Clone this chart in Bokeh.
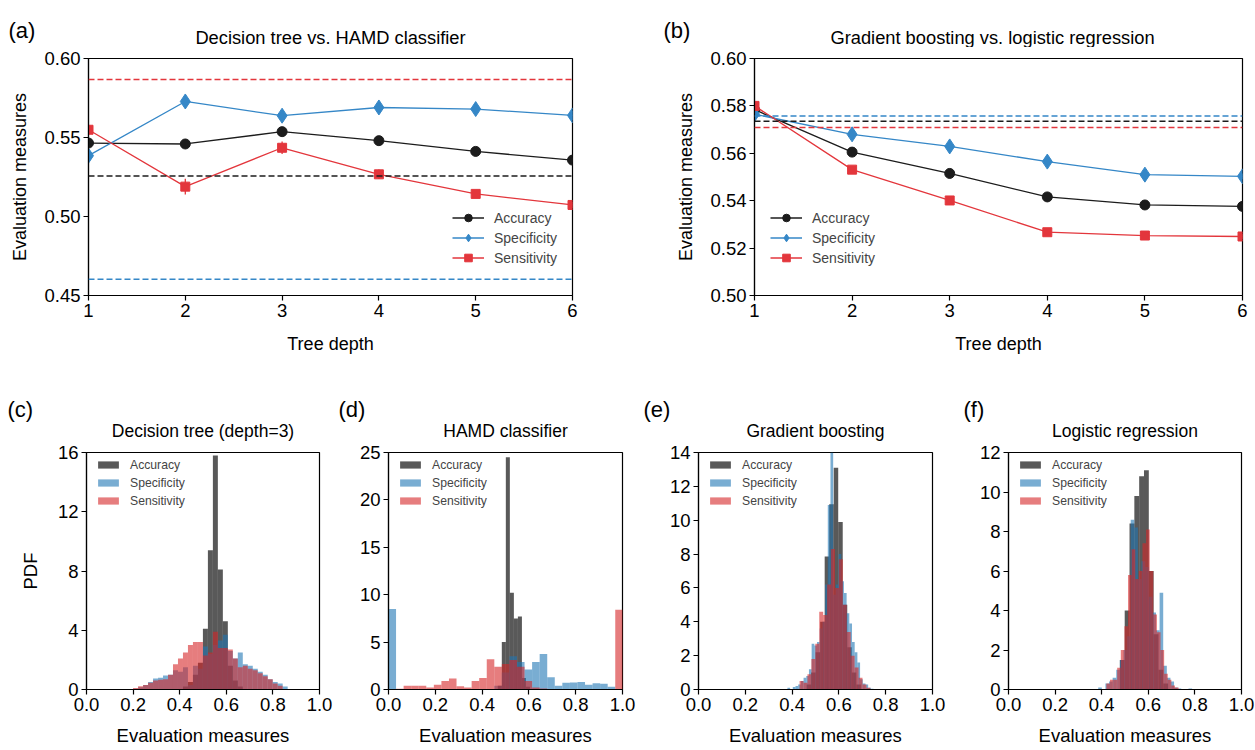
from bokeh.plotting import figure
from bokeh.layouts import row, column
from bokeh.models import (Range1d, FixedTicker, PrintfTickFormatter, Span, Label,
                          Legend, LegendItem, ColumnDataSource)
from bokeh.embed import file_html
from bokeh.resources import INLINE

FONT = "Liberation Sans"

# ---------------- data: line panels ----------------
depth = [1, 2, 3, 4, 5, 6]

# (a) Decision tree vs. HAMD classifier
a_acc = [0.5465, 0.5459, 0.5537, 0.5480, 0.5412, 0.5357]
a_acc_err = [0.002, 0.002, 0.002, 0.002, 0.0015, 0.0015]
a_spec = [0.5385, 0.5728, 0.5638, 0.5690, 0.5680, 0.5640]
a_spec_err = [0.003, 0.004, 0.003, 0.003, 0.003, 0.003]
a_sens = [0.5549, 0.5189, 0.5435, 0.5267, 0.5143, 0.5073]
a_sens_err = [0.003, 0.005, 0.004, 0.003, 0.002, 0.002]
a_ref_acc = 0.5256   # HAMD classifier
a_ref_spec = 0.4603
a_ref_sens = 0.5867

# (b) Gradient boosting vs. logistic regression
b_acc = [0.5784, 0.5605, 0.5515, 0.5416, 0.5382, 0.5376]
b_acc_err = [0.001, 0.001, 0.001, 0.001, 0.001, 0.001]
b_spec = [0.5765, 0.5680, 0.5629, 0.5565, 0.5510, 0.5503]
b_spec_err = [0.0012, 0.0012, 0.0012, 0.0012, 0.0012, 0.0012]
b_sens = [0.5800, 0.5531, 0.5401, 0.5267, 0.5253, 0.5249]
b_sens_err = [0.0012, 0.0012, 0.0012, 0.0012, 0.0012, 0.0012]
b_ref_acc = 0.5735   # logistic regression
b_ref_spec = 0.5757
b_ref_sens = 0.5709

# ---------------- data: histogram panels (bin start, bin width, PDF heights) ----------------
# (c) Decision tree (depth=3)
c_acc_start, c_acc_bw = 0.414, 0.0214
c_acc = [0.2, 0.5, 1.0, 1.8, 4.1, 9.4, 15.8, 8.1, 4.6, 1.6, 0.6, 0.2]
c_spec_start, c_spec_bw = 0.200, 0.0214
c_spec = [0.05, 0.15, 0.3, 0.5, 0.75, 0.8, 0.95, 1.0, 1.3, 1.2, 1.5, 0.3, 1.6, 1.4, 2.9, 2.4,
          3.0, 3.3, 3.7, 2.6, 2.1, 2.5, 1.7, 1.6, 1.4, 1.2, 1.0, 0.7, 0.5, 0.4, 0.2]
c_sens_start, c_sens_bw = 0.200, 0.0214
c_sens = [0.1, 0.22, 0.3, 0.45, 0.6, 0.65, 0.7, 1.0, 1.7, 2.1, 2.5, 3.0, 3.2, 3.2, 2.3, 2.5,
          3.9, 2.8, 2.8, 2.7, 2.1, 1.5, 1.6, 1.4, 1.3, 1.1, 0.9, 0.7, 0.4, 0.25, 0.0]

# (d) HAMD classifier
d_acc_start, d_acc_bw = 0.467, 0.0172
d_acc = [0.4, 5.0, 24.5, 10.2, 7.5, 7.7, 1.2, 0.3]
d_spec_start, d_spec_bw = 0.0, 0.0323
d_spec = [8.5, 0, 0, 0, 0, 0, 0, 0, 0, 0, 0, 0, 0, 0, 0.4, 1.8, 3.5, 2.9, 2.1, 2.9, 3.75,
          1.3, 0.4, 0.7, 0.75, 0.8, 0.5, 0.65, 0.6, 0.3, 0.0]
d_sens_start, d_sens_bw = 0.0, 0.0323
d_sens = [0, 0.07, 0.4, 0.4, 0.4, 0.2, 0.5, 0.9, 1.15, 0.35, 0.2, 0.9, 1.2, 3.2, 2.4, 2.7,
          3.1, 2.4, 0.9, 0.2, 0.1, 0.05, 0, 0, 0, 0, 0, 0, 0, 0, 8.4]

# (e) Gradient boosting
e_acc_start, e_acc_bw = 0.462, 0.0193
e_acc = [0.3, 1.0, 2.2, 4.0, 7.85, 10.95, 13.1, 9.9, 5.0, 2.5, 1.0, 0.3]
e_spec_start, e_spec_bw = 0.380, 0.0115
e_spec = [0.1, 0.0, 0.15, 0.2, 0.3, 0.5, 0.7, 0.8, 1.2, 2.7, 2.6, 2.8, 3.6, 4.0, 6.2, 10.9,
          14.0, 5.6, 6.2, 8.0, 6.4, 5.7, 4.5, 3.9, 2.8, 2.2, 1.6, 0.6, 0.35, 0.3, 0.1, 0.05]
e_sens_start, e_sens_bw = 0.432, 0.0168
e_sens = [0.5, 0.4, 0.9, 1.8, 2.7, 4.6, 4.4, 6.2, 8.3, 6.0, 7.7, 5.0, 3.4, 2.0, 1.3, 0.7, 0.3, 0.1]

# (f) Logistic regression
f_acc_start, f_acc_bw = 0.478, 0.0207
f_acc = [1.5, 4.0, 8.4, 9.8, 10.8, 11.1, 6.0, 2.8, 1.0, 0.3]
f_spec_start, f_spec_bw = 0.385, 0.0155
f_spec = [0.1, 0.0, 0.3, 0.4, 0.6, 1.0, 1.5, 2.0, 2.7, 8.6, 8.2, 5.6, 6.5, 6.2, 4.7, 3.9,
          3.0, 4.9, 1.2, 0.6, 0.4, 0.1, 0.05, 0.0, 0.0, 0.05]
f_sens_start, f_sens_bw = 0.420, 0.0155
f_sens = [0.3, 0.5, 0.5, 1.1, 2.0, 3.2, 5.8, 7.1, 5.6, 6.0, 7.4, 8.1, 6.0, 3.8, 2.9, 2.0,
          0.8, 0.5, 0.2, 0.1]

labels = ["Accuracy", "Specificity", "Sensitivity"]
hist_xticks = [0.0, 0.2, 0.4, 0.6, 0.8, 1.0]
titles = ["Decision tree vs. HAMD classifier", "Gradient boosting vs. logistic regression",
          "Decision tree (depth=3)", "HAMD classifier", "Gradient boosting",
          "Logistic regression"]
letters = ["(a)", "(b)", "(c)", "(d)", "(e)", "(f)"]

# ---------------- styles / layout ----------------
LINE_COLORS = ["#1c1c1c", "#3587c7", "#e3363c"]
HIST_COLORS = ["#000000", "#1f77b4", "#d62728"]
HIST_ALPHA = [0.65, 0.6, 0.6]
PAGE_W = 1255

# (canvas width, left border, frame width) for each panel
TOP_GEOM = [(612, 88, 484), (643, 142, 488)]
BOT_GEOM = [(350, 86, 233), (310, 38, 234), (310, 38, 234), (285, 38, 233)]
TOP_STRIP_H, TOP_ROW_H, BOT_STRIP_H, BOT_ROW_H = 47, 333, 61, 307
TOP_FRAME_H, BOT_FRAME_H = 237, 240
FRAME_TOP_PAD = 11


def style_axes(p, size, label_size):
    p.grid.visible = False
    p.outline_line_color = "black"
    p.outline_line_width = 1.2
    p.outline_line_alpha = 1.0
    for ax in (p.xaxis[0], p.yaxis[0]):
        ax.major_label_text_font = FONT
        ax.major_label_text_font_size = size
        ax.major_label_text_color = "black"
        ax.axis_label_text_font = FONT
        ax.axis_label_text_font_size = label_size
        ax.axis_label_text_font_style = "normal"
        ax.axis_label_text_color = "black"
        ax.minor_tick_line_color = None
        ax.major_tick_in = 0
        ax.major_tick_out = 5
        ax.major_label_standoff = 3
        ax.axis_line_color = "black"
        ax.axis_line_width = 1.2
        ax.major_tick_line_color = "black"
        ax.major_tick_line_width = 1.2


def line_panel(geom, ylim, yticks, series, refs, legend_x):
    width, left, fw = geom
    p = figure(width=width, height=TOP_ROW_H, x_range=Range1d(1, 6), y_range=Range1d(*ylim),
               output_backend="svg", toolbar_location=None,
               min_border_left=left, min_border_right=width - left - fw,
               min_border_top=FRAME_TOP_PAD,
               min_border_bottom=TOP_ROW_H - FRAME_TOP_PAD - TOP_FRAME_H)
    style_axes(p, "18.5px", "18px")
    p.xaxis.ticker = FixedTicker(ticks=depth)
    p.yaxis.ticker = FixedTicker(ticks=yticks)
    p.yaxis.formatter = PrintfTickFormatter(format="%.2f")
    p.xaxis.axis_label = "Tree depth"
    p.yaxis.axis_label = "Evaluation measures"
    p.xaxis.axis_label_standoff = 14
    p.yaxis.axis_label_standoff = 11
    for val, col in refs:
        p.add_layout(Span(location=val, dimension="width", line_color=col,
                          line_dash="6 3", line_width=1.5))
    items = []
    for (vals, errs, label), col, marker, size in zip(series, LINE_COLORS,
                                                      ["circle", "diamond", "square"],
                                                      [10, 15, 9]):
        src = ColumnDataSource(dict(x=depth, y=vals,
                                    lo=[v - e for v, e in zip(vals, errs)],
                                    hi=[v + e for v, e in zip(vals, errs)]))
        ln = p.line("x", "y", source=src, line_color=col, line_width=1.3)
        p.segment(x0="x", y0="lo", x1="x", y1="hi", source=src, line_color=col,
                  line_width=1.3)
        sc = p.scatter("x", "y", source=src, marker=marker, size=size,
                       fill_color=col, line_color=col)
        items.append(LegendItem(label=label, renderers=[ln, sc]))
    leg = Legend(items=items, location=(legend_x, 23), border_line_alpha=0,
                 background_fill_alpha=0, label_text_font=FONT,
                 label_text_font_size="14px", glyph_width=32, glyph_height=19,
                 label_height=19, spacing=1, padding=5, margin=0, label_standoff=10)
    p.add_layout(leg)
    return p


def hist_panel(geom, ymax, ystep, series, ylabel=None):
    width, left, fw = geom
    p = figure(width=width, height=BOT_ROW_H, x_range=Range1d(0, 1),
               y_range=Range1d(0, ymax), output_backend="svg", toolbar_location=None,
               min_border_left=left, min_border_right=width - left - fw,
               min_border_top=FRAME_TOP_PAD,
               min_border_bottom=BOT_ROW_H - FRAME_TOP_PAD - BOT_FRAME_H)
    style_axes(p, "18.5px", "18.5px")
    p.xaxis.ticker = FixedTicker(ticks=hist_xticks)
    p.xaxis.formatter = PrintfTickFormatter(format="%.1f")
    p.yaxis.ticker = FixedTicker(ticks=list(range(0, ymax + 1, ystep)))
    p.xaxis.axis_label = "Evaluation measures"
    p.xaxis.axis_label_standoff = 11
    if ylabel:
        p.yaxis.axis_label = ylabel
        p.yaxis.axis_label_standoff = 14
    items = []
    for (start, bw, heights, label), col, alpha in zip(series, HIST_COLORS, HIST_ALPHA):
        lefts = [start + i * bw for i in range(len(heights))]
        src = ColumnDataSource(dict(left=lefts, right=[l + bw for l in lefts],
                                    top=heights, bottom=[0] * len(heights)))
        r = p.quad(left="left", right="right", top="top", bottom="bottom", source=src,
                   fill_color=col, fill_alpha=alpha, line_color=None)
        items.append(LegendItem(label=label, renderers=[r]))
    leg = Legend(items=items, location=(4, 175), border_line_alpha=0,
                 background_fill_alpha=0, label_text_font=FONT,
                 label_text_font_size="12.2px", glyph_width=26, glyph_height=9,
                 label_height=17, spacing=1, padding=5, margin=0, label_standoff=9)
    p.add_layout(leg)
    return p


def text_strip(height, entries):
    s = figure(width=PAGE_W, height=height, x_range=Range1d(0, PAGE_W),
               y_range=Range1d(height, 0), output_backend="svg", toolbar_location=None,
               min_border=0, x_axis_type=None, y_axis_type=None)
    s.outline_line_color = None
    s.grid.visible = False
    for x, y, txt, size, align, baseline in entries:
        s.add_layout(Label(x=x, y=y, text=txt, text_font=FONT, text_font_size=size,
                           text_align=align, text_baseline=baseline, text_color="black"))
    return s


def frame_centers(geoms):
    out, x0 = [], 0
    for w, l, fw in geoms:
        out.append(x0 + l + fw / 2)
        x0 += w
    return out


top_c = frame_centers(TOP_GEOM)
bot_c = frame_centers(BOT_GEOM)

top_strip = text_strip(TOP_STRIP_H, [
    (8, 30, letters[0], "22px", "left", "alphabetic"),
    (663, 30, letters[1], "22px", "left", "alphabetic"),
    (top_c[0], 36.5, titles[0], "18.3px", "center", "middle"),
    (top_c[1] - 6, 36.5, titles[1], "18.3px", "center", "middle"),
])
bot_strip = text_strip(BOT_STRIP_H, [
    (7, 29, letters[2], "22px", "left", "alphabetic"),
    (338, 29, letters[3], "22px", "left", "alphabetic"),
    (643, 29, letters[4], "22px", "left", "alphabetic"),
    (963, 29, letters[5], "22px", "left", "alphabetic"),
    (bot_c[0], 50.5, titles[2], "17.5px", "center", "middle"),
    (bot_c[1], 50.5, titles[3], "17.5px", "center", "middle"),
    (bot_c[2], 50.5, titles[4], "17.5px", "center", "middle"),
    (bot_c[3], 50.5, titles[5], "17.5px", "center", "middle"),
])

pa = line_panel(TOP_GEOM[0], (0.45, 0.60), [0.45, 0.50, 0.55, 0.60],
                [(a_acc, a_acc_err, labels[0]), (a_spec, a_spec_err, labels[1]),
                 (a_sens, a_sens_err, labels[2])],
                [(a_ref_sens, LINE_COLORS[2]), (a_ref_acc, LINE_COLORS[0]),
                 (a_ref_spec, LINE_COLORS[1])], 359)
pb = line_panel(TOP_GEOM[1], (0.50, 0.60), [0.50, 0.52, 0.54, 0.56, 0.58, 0.60],
                [(b_acc, b_acc_err, labels[0]), (b_spec, b_spec_err, labels[1]),
                 (b_sens, b_sens_err, labels[2])],
                [(b_ref_spec, LINE_COLORS[1]), (b_ref_acc, LINE_COLORS[0]),
                 (b_ref_sens, LINE_COLORS[2])], 11)

pc = hist_panel(BOT_GEOM[0], 16, 4,
                [(c_acc_start, c_acc_bw, c_acc, labels[0]),
                 (c_spec_start, c_spec_bw, c_spec, labels[1]),
                 (c_sens_start, c_sens_bw, c_sens, labels[2])], ylabel="PDF")
pd_ = hist_panel(BOT_GEOM[1], 25, 5,
                 [(d_acc_start, d_acc_bw, d_acc, labels[0]),
                  (d_spec_start, d_spec_bw, d_spec, labels[1]),
                  (d_sens_start, d_sens_bw, d_sens, labels[2])])
pe = hist_panel(BOT_GEOM[2], 14, 2,
                [(e_acc_start, e_acc_bw, e_acc, labels[0]),
                 (e_spec_start, e_spec_bw, e_spec, labels[1]),
                 (e_sens_start, e_sens_bw, e_sens, labels[2])])
pf = hist_panel(BOT_GEOM[3], 12, 2,
                [(f_acc_start, f_acc_bw, f_acc, labels[0]),
                 (f_spec_start, f_spec_bw, f_spec, labels[1]),
                 (f_sens_start, f_sens_bw, f_sens, labels[2])])

layout = column(top_strip, row(pa, pb), bot_strip, row(pc, pd_, pe, pf))

with open("out.html", "w") as fh:
    fh.write(file_html(layout, INLINE))
